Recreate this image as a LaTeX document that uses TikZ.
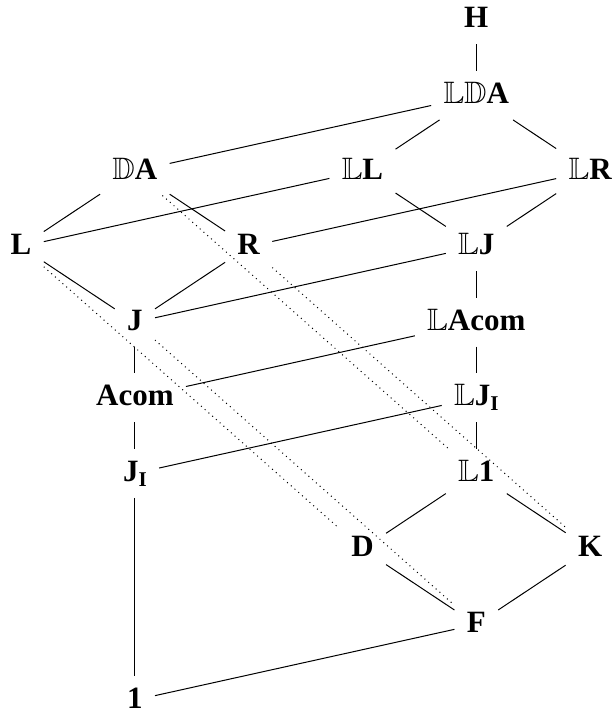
\documentclass[tikz,border=0pt]{standalone}
\usepackage{fontspec}
\setmainfont{Liberation Serif}
\usepackage{amssymb}
\newcommand{\bbl}[1]{$\mathbb{#1}$}
\newcommand{\subI}{\raisebox{-2.5pt}{\fontsize{10.5}{12}\selectfont I}}
\tikzset{
  cls/.style={font=\fontsize{15.5}{18}\selectfont\bfseries, inner sep=6pt, text height=10pt, text depth=2pt},
  edge/.style={line width=0.5pt},
  eqn/.style={line width=0.5pt, dotted}
}

\begin{document}
\begin{tikzpicture}[x=2cm, y=1.328cm]
\useasboundingbox (-0.185,0.264) rectangle (5.184,-9.171);

% upper half
\node[cls] (H)     at (4,0)  {H};
\node[cls] (LDA)   at (4,-1) {\bbl{L}\bbl{D}A};
\node[cls] (DA)    at (1,-2) {\bbl{D}A};
\node[cls] (LL)    at (3,-2) {\bbl{L}L};
\node[cls] (LR)    at (5,-2) {\bbl{L}R};
\node[cls] (L)     at (0,-3) {L};
\node[cls] (R)     at (2,-3) {R};
\node[cls] (LJ)    at (4,-3) {\bbl{L}J};
\node[cls] (J)     at (1,-4) {J};
\node[cls] (LAcom) at (4,-4) {\bbl{L}Acom};
\node[cls] (Acom)  at (1,-5) {Acom};
\node[cls] (LJI)   at (4,-5) {\bbl{L}J\subI};
\node[cls] (JI)    at (1,-6) {J\subI};
\node[cls] (L1)    at (4,-6) {\bbl{L}1};
% lower part
\node[cls] (D)     at (3,-7) {D};
\node[cls] (K)     at (5,-7) {K};
\node[cls] (F)     at (4,-8) {F};
\node[cls] (one)   at (1,-9) {1};

\foreach \a/\b in {H/LDA, LDA/DA, LDA/LL, LDA/LR, DA/L, DA/R, LL/L, LL/LJ,
                   LR/R, LR/LJ, L/J, R/J, LJ/J, LJ/LAcom, J/Acom, LAcom/Acom,
                   LAcom/LJI, Acom/JI, LJI/JI, LJI/L1, JI/one, L1/D, L1/K,
                   D/F, K/F, F/one}
  \draw[edge] (\a) -- (\b);

% dotted ones
\foreach \a/\b in {L/D, J/F, DA/L1, R/K}
  \draw[eqn] (\a) -- (\b);
\end{tikzpicture}
\end{document}
